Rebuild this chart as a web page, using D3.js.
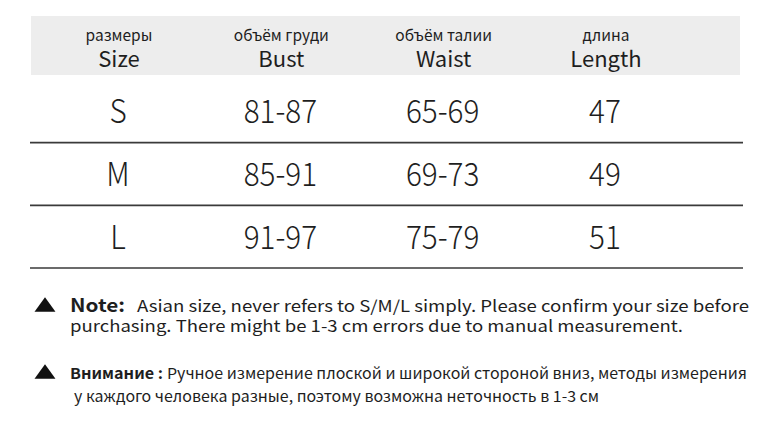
<!DOCTYPE html>
<html>
<head>
<meta charset="utf-8">
<script src="https://cdn.jsdelivr.net/npm/d3@7/dist/d3.min.js"></script>
<style>
  html, body { margin: 0; padding: 0; background: #fff; }
  svg { display: block; }
  text { font-family: "Noto Sans CJK SC", "Noto Sans", sans-serif; fill: #1e1e1e; }
</style>
</head>
<body>
<svg id="chart" width="764" height="423"></svg>
<script>
// ---- data ----
const columnKeys = ["size", "bust", "waist", "length"];
const headerRu = ["размеры", "объём груди", "объём талии", "длина"];
const headerEn = ["Size", "Bust", "Waist", "Length"];
const sizes = ["S", "M", "L"];
const bust = ["81-87", "85-91", "91-97"];
const waist = ["65-69", "69-73", "75-79"];
const lengthVals = ["47", "49", "51"];
const noteLabel = "Note:";
const noteLines = [
  "Asian size, never refers to S/M/L simply. Please confirm your size before",
  "purchasing. There might be 1-3 cm errors due to manual measurement."
];
const ruLabel = "Внимание :";
const ruLines = [
  "Ручное измерение плоской и широкой стороной вниз, методы измерения",
  "у каждого человека разные, поэтому возможна неточность в 1-3 см"
];

// ---- layout ----
const svg = d3.select("#chart");
const tableLeft = 30, tableRight = 743;

const x = d3.scalePoint().domain(columnKeys).range([118, 605]);
const y = d3.scaleBand().domain(sizes).range([80, 268]).paddingInner(0).paddingOuter(0);

// header band
svg.append("rect")
  .attr("x", 31).attr("y", 16)
  .attr("width", 740 - 31).attr("height", 75 - 16)
  .attr("fill", "#ededed");

svg.selectAll("text.hru").data(columnKeys).join("text")
  .attr("class", "hru")
  .attr("x", d => x(d) + 1)
  .attr("y", 40.5)
  .attr("text-anchor", "middle")
  .style("font-size", "15.5px")
  .text((d, i) => headerRu[i]);

svg.selectAll("text.hen").data(columnKeys).join("text")
  .attr("class", "hen")
  .attr("x", d => x(d) + 1)
  .attr("y", 67)
  .attr("text-anchor", "middle")
  .style("font-size", "22px")
  .text((d, i) => headerEn[i]);

// rows
const rows = sizes.map((s, i) => ({ size: s, bust: bust[i], waist: waist[i], length: lengthVals[i] }));

const rowG = svg.selectAll("g.row").data(rows).join("g").attr("class", "row");

rowG.selectAll("text").data(r => columnKeys.map(k => ({ key: k, val: r[k], size: r.size })))
  .join("text")
  .attr("text-anchor", "middle")
  .attr("transform", d => `translate(${x(d.key)},${y(d.size) + y.bandwidth() / 2 + 12}) scale(0.9,1)`)
  .style("font-size", "33px")
  .style("font-weight", "300")
  .text(d => d.val);

// separator lines under each row
svg.selectAll("line.sep").data(sizes).join("line")
  .attr("class", "sep")
  .attr("x1", tableLeft).attr("x2", tableRight)
  .attr("y1", d => y(d) + y.bandwidth())
  .attr("y2", d => y(d) + y.bandwidth())
  .attr("stroke", "#3a3a3a")
  .attr("stroke-width", 1.6);

// ---- notes ----
const tri = d3.symbol().type(d3.symbolTriangle).size(190);
[307, 374].forEach(cy => {
  svg.append("path").attr("d", tri()).attr("transform", `translate(45,${cy}) scale(1,0.8)`).attr("fill", "#111");
});

svg.append("text").attr("x", 70).attr("y", 312)
  .style("font-size", "18px").style("font-weight", "700")
  .attr("textLength", 55).attr("lengthAdjust", "spacingAndGlyphs")
  .text(noteLabel);
svg.append("text").attr("x", 137).attr("y", 312)
  .style("font-size", "16px")
  .attr("textLength", 612).attr("lengthAdjust", "spacingAndGlyphs")
  .text(noteLines[0]);
svg.append("text").attr("x", 70).attr("y", 332)
  .style("font-size", "16px")
  .attr("textLength", 613).attr("lengthAdjust", "spacingAndGlyphs")
  .text(noteLines[1]);

svg.append("text").attr("x", 70).attr("y", 379)
  .style("font-size", "15px").style("font-weight", "700")
  .attr("textLength", 93).attr("lengthAdjust", "spacingAndGlyphs")
  .text(ruLabel);
svg.append("text").attr("x", 167).attr("y", 379)
  .style("font-size", "15px")
  .attr("textLength", 580).attr("lengthAdjust", "spacingAndGlyphs")
  .text(ruLines[0]);
svg.append("text").attr("x", 74).attr("y", 402)
  .style("font-size", "15px")
  .attr("textLength", 525).attr("lengthAdjust", "spacingAndGlyphs")
  .text(ruLines[1]);
</script>
</body>
</html>
